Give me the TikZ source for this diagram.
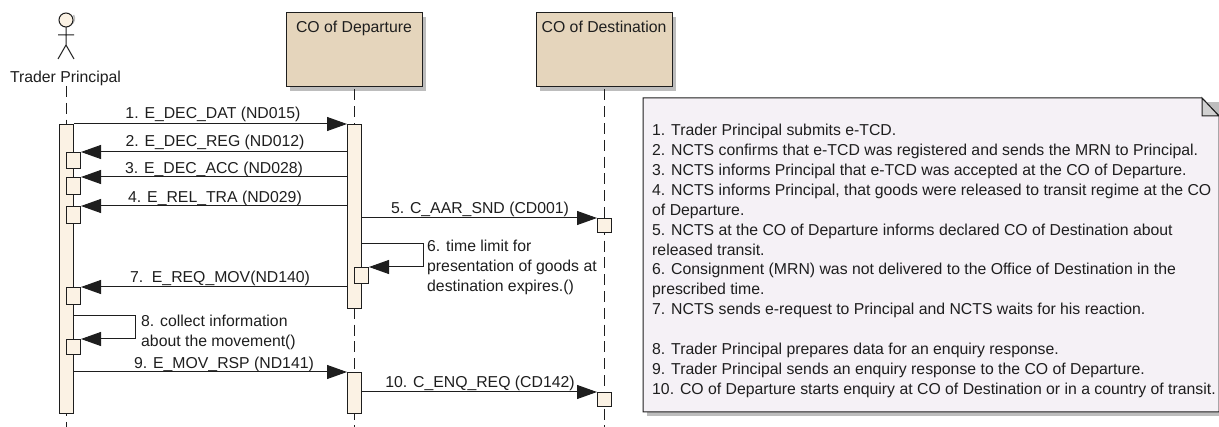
\documentclass[tikz,border=0pt]{standalone}
\usepackage{fontspec}
\setmainfont{Liberation Sans}
\usetikzlibrary{positioning,shadows,arrows.meta}
\definecolor{boxfill}{HTML}{E5D5BC}
\definecolor{barfill}{HTML}{FBF2E4}
\definecolor{notefill}{HTML}{F5F1F6}
\definecolor{inkgrey}{HTML}{1E1E1E}
\definecolor{shadegrey}{HTML}{BDBDBD}
\tikzset{
  lbl/.style={font=\fontsize{15.8pt}{20pt}\selectfont,text=inkgrey,inner sep=0pt},
  cobox/.style={draw=inkgrey,line width=1pt,fill=boxfill,minimum width=136pt,inner sep=0pt,
    text height=20pt,text depth=54pt,font=\fontsize{15.8pt}{20pt}\selectfont,text=inkgrey,
    drop shadow={shadow xshift=4pt,shadow yshift=-4pt,fill=shadegrey,opacity=1}},
  life/.style={draw=inkgrey,line width=1pt,dash pattern=on 11pt off 5.8pt,dash phase=14.8pt},
  bar/.style={draw=inkgrey,line width=1pt,fill=barfill,minimum width=14pt,inner sep=0pt,anchor=north west},
  subbar/.style={bar,minimum width=14pt},
  msg/.style={draw=inkgrey,line width=1pt,-{Triangle[length=20pt,width=14pt]}},
}
\begin{document}
\begin{tikzpicture}[x=1pt,y=-1pt]
 \useasboundingbox (0,0) rectangle (1219,427);

 % actor
 \coordinate (TPtop)  at (66,84);
 \coordinate (TPfoot) at (66,427);
 \coordinate (CDfoot) at (354.5,427);
 \coordinate (CAfoot) at (604.5,427);
 \draw[draw=shadegrey,line width=1.5pt] (73.5,15) arc[start angle=-30,end angle=60,radius=7];
 \draw[draw=inkgrey,line width=1pt,fill=barfill] (66,20) circle[radius=7];
 \draw[draw=inkgrey,line width=1pt] (66,27) -- (66,45) (58,35) -- (74,35) (58,59) -- (66,45) -- (74,59);
 \node[lbl,name=TP] at (65.5,78) {Trader Principal};

 \node[cobox,name=CD] at (354,50) {CO of Departure};
 \node[cobox,name=CA] at (604,50) {CO of Destination};

 \draw[life] (TPtop) -- (TPfoot);
 \draw[life] (CD.south -| CDfoot) -- (CDfoot);
 \draw[life] (CA.south -| CAfoot) -- (CAfoot);

 \node[bar,minimum height=289pt,name=TA] at (59,124) {};
 \node[bar,minimum height=184pt,name=DA] at (347,124) {};
 \node[bar,minimum height=41pt, name=DB] at (347,372) {};

 \node[subbar,minimum height=16pt,name=TS2] at (66,152) {};
 \node[subbar,minimum height=17pt,name=TS3] at (66,177) {};
 \node[subbar,minimum height=17pt,name=TS4] at (66,206) {};
 \node[subbar,minimum height=17pt,name=TS7] at (66,287) {};
 \node[subbar,minimum height=15pt,name=TS8] at (66,339) {};
 \node[subbar,minimum height=16pt,name=DS6] at (354,267) {};
 \node[subbar,minimum height=14pt,name=AS5] at (597,218) {};
 \node[subbar,minimum height=14pt,name=AS10] at (597,392) {};

 \coordinate (turn6a) at (423,244);
 \coordinate (turn8a) at (135,316);

 \draw[msg] (TA.north east) -- (DA.north west);
 \draw[msg] (DA.west |- TS2.north) -- (TS2.north east);
 \draw[msg] (DA.west |- TS3.north) -- (TS3.north east);
 \draw[msg] (DA.west |- TS4.north) -- (TS4.north east);
 \draw[msg] (DA.east |- AS5.north) -- (AS5.north west);
 \draw[msg] (DA.east |- turn6a) -- (turn6a) |- (DS6.north east);
 \draw[msg] (DA.west |- TS7.north) -- (TS7.north east);
 \draw[msg] (TA.east |- turn8a) -- (turn8a) |- (TS8.north east);
 \draw[msg] (TA.east |- DB.north) -- (DB.north west);
 \draw[msg] (DB.east |- AS10.north) -- (AS10.north west);

 \node[lbl,name=m1] at (213,114.5) {1. E\_DEC\_DAT (ND015)};
 \node[lbl,name=m2] at (215,142.5) {2. E\_DEC\_REG (ND012)};
 \node[lbl,name=m3] at (214,169.5) {3. E\_DEC\_ACC (ND028)};
 \node[lbl,name=m4] at (215,198.5) {4. E\_REL\_TRA (ND029)};
 \node[lbl,name=m5] at (480,209.5) {5. C\_AAR\_SND (CD001)};
 \node[lbl,name=m7] at (220,278.5) {7.\ \ E\_REQ\_MOV(ND140)};
 \node[lbl,name=m9] at (224,364.5) {9. E\_MOV\_RSP (ND141)};
 \node[lbl,name=m10] at (480,383.5) {10. C\_ENQ\_REQ (CD142)};
 \node[lbl,name=m6,anchor=north west,align=left] at (427,240)
   {6. time limit for\\presentation of goods at\\destination expires.()};
 \node[lbl,name=m8,anchor=north west,align=left] at (141,315)
   {8. collect information\\about the movement()};

 % note
 \fill[shadegrey] (647,102) rectangle (1223,416);
 \filldraw[draw=inkgrey,line width=1pt,fill=notefill] (643,98) -- (1202,98) -- (1219,116) -- (1219,412) -- (643,412) -- cycle;
 \filldraw[draw=inkgrey,line width=1pt,fill=shadegrey!70] (1202,98) -- (1202,116) -- (1219,116) -- cycle;
 \node[lbl,name=NT,anchor=north west,align=left,font=\fontsize{15.8pt}{19.9pt}\selectfont] at (652,124)
   {1. Trader Principal submits e-TCD.\\
    2. NCTS confirms that e-TCD was registered and sends the MRN to Principal.\\
    3. NCTS informs Principal that e-TCD was accepted at the CO of Departure.\\
    4. NCTS informs Principal, that goods were released to transit regime at the CO\\
    of Departure.\\
    5. NCTS at the CO of Departure informs declared CO of Destination about\\
    released transit.\\
    6. Consignment (MRN) was not delivered to the Office of Destination in the\\
    prescribed time.\\
    7. NCTS sends e-request to Principal and NCTS waits for his reaction.\\
    \mbox{}\\
    8. Trader Principal prepares data for an enquiry response.\\
    9. Trader Principal sends an enquiry response to the CO of Departure.\\
    10. CO of Departure starts enquiry at CO of Destination or in a country of transit.};
\end{tikzpicture}
\end{document}
